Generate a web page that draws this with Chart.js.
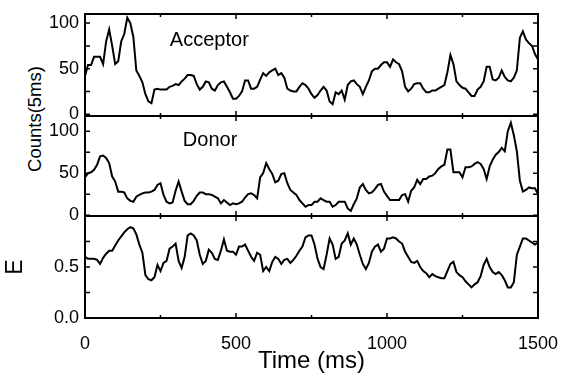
<!DOCTYPE html>
<html>
<head>
<meta charset="utf-8">
<script src="https://cdn.jsdelivr.net/npm/chart.js@4"></script>
<style>
  html, body { margin: 0; padding: 0; background: #fff; }
  #wrap { position: relative; width: 566px; height: 377px; overflow: hidden; font-family: "Liberation Sans", Arial, sans-serif; }
  #wrap canvas { position: absolute; left: 0; }
  #c1 { top: 0; }
  #c2 { top: 100px; }
  #c3 { top: 200px; }
  #countsTitle { position: absolute; left: 35px; top: 119px; transform: translate(-50%, -50%) rotate(-90deg); font-size: 18.5px; white-space: nowrap; color: #000; }
</style>
</head>
<body>
<div id="wrap">
  <div id="countsTitle">Counts(5ms)</div>
  <canvas id="c1" width="566" height="130"></canvas>
  <canvas id="c2" width="566" height="132"></canvas>
  <canvas id="c3" width="566" height="177"></canvas>
</div>
<script>
// time axis (ms), one point every 10 ms
const times = [
  0,10,20,30,40,50,60,70,80,90,100,110,120,130,140,150,160,170,180,190,
  200,210,220,230,240,250,260,270,280,290,300,310,320,330,340,350,360,370,380,390,
  400,410,420,430,440,450,460,470,480,490,500,510,520,530,540,550,560,570,580,590,
  600,610,620,630,640,650,660,670,680,690,700,710,720,730,740,750,760,770,780,790,
  800,810,820,830,840,850,860,870,880,890,900,910,920,930,940,950,960,970,980,990,
  1000,1010,1020,1030,1040,1050,1060,1070,1080,1090,1100,1110,1120,1130,1140,1150,1160,1170,1180,1190,
  1200,1210,1220,1230,1240,1250,1260,1270,1280,1290,1300,1310,1320,1330,1340,1350,1360,1370,1380,1390,
  1400,1410,1420,1430,1440,1450,1460,1470,1480,1490,1500
];
// acceptor counts per 5 ms
const acceptor = [
  42,54,54,63,63,63,55,80,93,75,55,58,80,88,106,100,85,48,42,35,
  22,14,12,27,28,27,27,27,30,31,33,32,36,39,43,43,42,33,27,30,
  36,35,28,26,32,35,36,30,24,17,17,20,25,37,37,28,28,30,38,45,
  42,46,48,50,43,45,40,28,26,25,25,30,34,32,28,22,18,21,26,30,
  26,14,11,24,22,26,16,32,36,37,33,30,22,30,37,47,50,50,54,57,
  57,52,60,57,55,47,30,25,28,33,34,34,28,24,24,26,26,28,30,32,
  46,65,55,36,32,29,28,24,20,20,27,30,36,52,52,38,37,40,48,41,
  37,36,40,48,84,91,82,78,75,66,60
];
// donor counts per 5 ms
const donor = [
  45,50,51,54,60,70,71,68,62,46,40,28,28,27,20,17,16,22,24,26,
  27,27,28,30,36,38,24,16,14,15,29,40,28,17,13,13,17,23,27,27,
  25,25,24,22,20,14,18,15,12,14,13,14,16,21,25,26,24,20,45,50,
  62,55,49,39,41,49,50,38,30,27,24,18,14,10,12,12,16,16,20,18,
  16,16,10,12,16,16,16,8,5,13,20,33,37,30,26,27,31,36,37,28,
  23,18,18,18,18,24,25,16,29,33,42,37,43,43,46,47,50,55,58,60,
  78,78,51,51,51,45,57,57,58,61,63,61,55,43,58,66,72,75,80,76,
  100,110,95,76,41,28,30,33,32,32,25
];
// FRET efficiency
const efficiency = [
  0.60,0.58,0.58,0.58,0.57,0.53,0.59,0.63,0.66,0.66,0.71,0.76,0.80,0.84,0.87,0.89,0.88,0.82,0.72,0.64,
  0.42,0.38,0.37,0.40,0.52,0.46,0.54,0.56,0.68,0.70,0.73,0.56,0.49,0.60,0.81,0.83,0.81,0.76,0.62,0.53,
  0.56,0.67,0.64,0.58,0.57,0.66,0.77,0.66,0.65,0.65,0.62,0.70,0.70,0.72,0.66,0.60,0.56,0.64,0.62,0.46,
  0.50,0.46,0.55,0.60,0.58,0.53,0.57,0.58,0.54,0.57,0.61,0.66,0.70,0.79,0.81,0.81,0.72,0.58,0.50,0.48,
  0.62,0.78,0.72,0.58,0.60,0.73,0.76,0.83,0.72,0.78,0.72,0.62,0.53,0.48,0.54,0.65,0.70,0.72,0.65,0.68,
  0.78,0.78,0.79,0.78,0.75,0.73,0.65,0.60,0.55,0.54,0.56,0.50,0.46,0.44,0.40,0.43,0.41,0.40,0.39,0.39,
  0.46,0.53,0.55,0.45,0.42,0.40,0.36,0.33,0.30,0.33,0.35,0.41,0.52,0.58,0.50,0.45,0.43,0.45,0.42,0.37,
  0.30,0.30,0.35,0.62,0.70,0.78,0.78,0.76,0.74,0.72,0.74
];

// tick positions and labels
const xTickValues = [0, 250, 500, 750, 1000, 1250, 1500];
const xTickLabels = [0, 500, 1000, 1500];
const countTicks = [0, 25, 50, 75, 100];
const countTickLabels = [0, 50, 100];
const eTicks = [0, 0.25, 0.5, 0.75, 1.0];
const eTickLabels = [0, 0.5];

Chart.defaults.font.family = '"Liberation Sans", Arial, sans-serif';
Chart.defaults.color = '#000';

// box around each panel + inward tick marks + panel name
const framePlugin = {
  id: 'frame',
  afterDatasetsDraw(chart, args, opts) {
    const ctx = chart.ctx;
    const a = chart.chartArea;
    const x = chart.scales.x;
    const y = chart.scales.y;
    ctx.save();
    ctx.strokeStyle = '#000';
    ctx.lineWidth = 2;
    ctx.strokeRect(a.left, a.top, a.right - a.left, a.bottom - a.top);
    ctx.lineWidth = 1.5;
    ctx.beginPath();
    xTickValues.forEach(v => {
      const px = x.getPixelForValue(v);
      const len = v % 500 === 0 ? 5 : 3;
      ctx.moveTo(px, a.bottom); ctx.lineTo(px, a.bottom - len);
      ctx.moveTo(px, a.top); ctx.lineTo(px, a.top + len);
    });
    opts.yTicks.forEach(v => {
      const py = y.getPixelForValue(v);
      ctx.moveTo(a.left, py); ctx.lineTo(a.left + 5, py);
      ctx.moveTo(a.right, py); ctx.lineTo(a.right - 5, py);
    });
    ctx.stroke();
    if (opts.label) {
      ctx.font = '20px "Liberation Sans", Arial, sans-serif';
      ctx.fillStyle = '#000';
      ctx.textAlign = 'left';
      ctx.textBaseline = 'alphabetic';
      ctx.fillText(opts.label.text, x.getPixelForValue(opts.label.x), y.getPixelForValue(opts.label.y));
    }
    ctx.restore();
  }
};

function makePanel(id, values, p) {
  const ctx = document.getElementById(id).getContext('2d');
  return new Chart(ctx, {
    type: 'line',
    data: {
      labels: times,
      datasets: [{
        data: values,
        borderColor: '#000',
        borderWidth: 2,
        pointRadius: 0,
        tension: 0,
        fill: false
      }]
    },
    options: {
      responsive: false,
      animation: false,
      layout: { padding: p.padding },
      plugins: {
        legend: { display: false },
        tooltip: { enabled: false },
        frame: { yTicks: p.yTicks, label: p.label }
      },
      scales: {
        x: {
          type: 'linear',
          min: 0,
          max: 1500,
          display: p.showX,
          grid: { display: false, drawTicks: false },
          border: { display: false },
          afterBuildTicks: s => { s.ticks = xTickLabels.map(v => ({ value: v })); },
          afterFit: s => {
            if (p.showX) s.height = 59;
            s.paddingLeft = 0; s.paddingRight = 0; // keep plot width fixed
          },
          ticks: { padding: 15, font: { size: 18 }, callback: v => String(v), maxRotation: 0 },
          title: { display: p.showX, text: 'Time (ms)', font: { size: 24 }, padding: { top: 0, bottom: 1 } }
        },
        y: {
          min: p.yMin,
          max: p.yMax,
          grid: { display: false, drawTicks: false },
          border: { display: false },
          afterBuildTicks: s => { s.ticks = p.yLabels.map(v => ({ value: v })); },
          afterFit: s => {
            s.width = 85;
            s.paddingTop = 0; s.paddingBottom = 0; // panels meet exactly
          },
          ticks: { padding: 6, font: { size: 18 }, callback: p.fmt },
          title: { display: !!p.yTitle, text: p.yTitle || '', font: { size: 23 }, padding: { top: 2, bottom: 0 } }
        }
      }
    },
    plugins: [framePlugin]
  });
}

// Acceptor panel: plot area 14..116
makePanel('c1', acceptor, {
  padding: { top: 14, bottom: 14, left: 0, right: 28 },
  yMin: -2, yMax: 110, yTicks: countTicks, yLabels: countTickLabels,
  fmt: v => String(v), showX: false,
  label: { text: 'Acceptor', x: 281, y: 75 }
});
// Donor panel: plot area 116..216
makePanel('c2', donor, {
  padding: { top: 16, bottom: 16, left: 0, right: 28 },
  yMin: -1, yMax: 118, yTicks: countTicks, yLabels: countTickLabels,
  fmt: v => String(v), showX: false,
  label: { text: 'Donor', x: 324, y: 82 }
});
// E panel: plot area 216..318, x axis below
makePanel('c3', efficiency, {
  padding: { top: 16, bottom: 0, left: 0, right: 28 },
  yMin: 0, yMax: 1.0, yTicks: eTicks, yLabels: eTickLabels,
  fmt: v => v.toFixed(1), showX: true, yTitle: 'E'
});
</script>
</body>
</html>
